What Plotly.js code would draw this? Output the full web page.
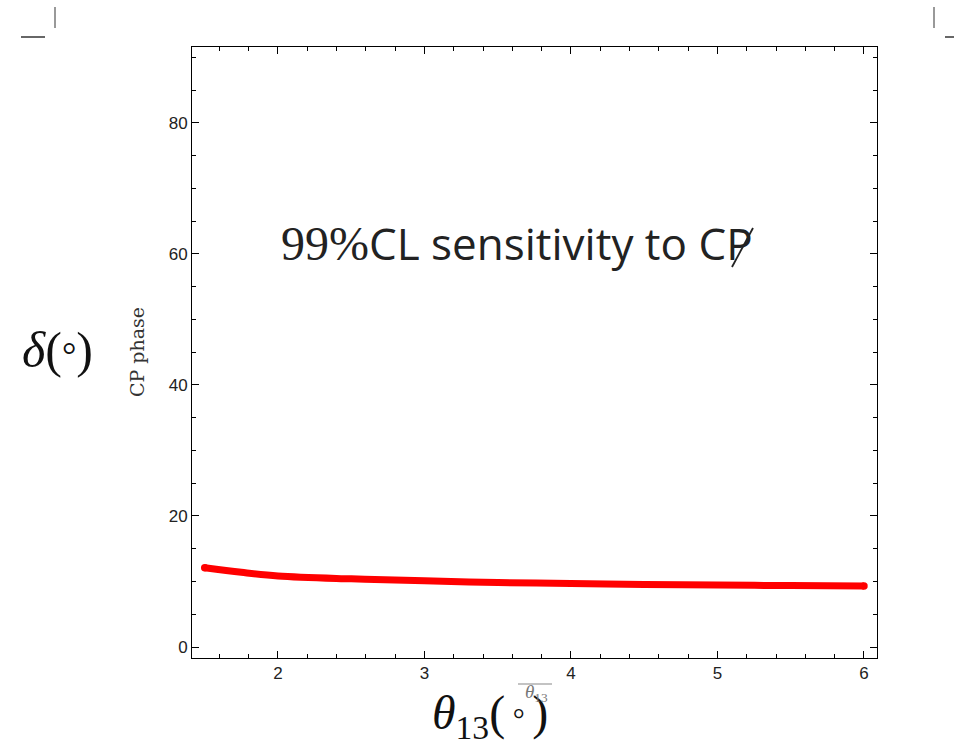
<!DOCTYPE html>
<html>
<head>
<meta charset="utf-8">
<script src="https://cdn.plot.ly/plotly-3.0.1.min.js"></script>
<style>html,body{margin:0;padding:0;background:#fff;}#chart{width:954px;height:745px;}</style>
</head>
<body>
<div id="chart"></div>
<script>
// Data
const theta13 = [1.5, 1.75, 2.0, 2.5, 3.0, 3.5, 4.0, 4.5, 5.0, 5.5, 6.0];
const deltaCP = [12.1, 11.4, 10.85, 10.4, 10.1, 9.85, 9.7, 9.55, 9.45, 9.38, 9.3];
const xTicks = [2, 3, 4, 5, 6];
const yTicks = [0, 20, 40, 60, 80];

const n = theta13.length;
const capSizes = theta13.map((_, i) => (i === 0 || i === n - 1) ? 7.5 : 0);

const trace = {
  x: theta13, y: deltaCP, type: 'scatter', mode: 'lines+markers',
  line: {color: '#ff0000', width: 7, shape: 'spline'},
  marker: {color: '#ff0000', size: capSizes, opacity: 1, line: {width: 0}},
  hoverinfo: 'skip', showlegend: false
};

const tickFont = {family: 'Liberation Sans', size: 17, color: '#222'};
const axisCommon = {
  showline: true, linecolor: '#000', linewidth: 1, mirror: 'ticks',
  ticks: 'inside', ticklen: 7, tickcolor: '#000', tickwidth: 1,
  showgrid: false, zeroline: false, tickfont: tickFont
};

function px2x(p) { return (p - 192) / 685; }
function py2y(p) { return (658 - p) / 611; }

const layout = {
  width: 954, height: 745,
  margin: {l: 192, r: 77, t: 47, b: 87},
  paper_bgcolor: '#fff', plot_bgcolor: '#fff',
  xaxis: Object.assign({}, axisCommon, {
    range: [1.413, 6.089], tickvals: xTicks, ticktext: xTicks.map(String),
    minor: {dtick: 0.2, ticks: 'inside', ticklen: 4, tickcolor: '#000', showgrid: false}
  }),
  yaxis: Object.assign({}, axisCommon, {
    range: [-1.68, 91.6], tickvals: yTicks, ticktext: yTicks.map(String),
    minor: {dtick: 5, ticks: 'inside', ticklen: 4, tickcolor: '#000', showgrid: false}
  }),
  annotations: [
    {xref: 'paper', yref: 'paper', x: px2x(279), y: py2y(243), xanchor: 'left', yanchor: 'middle', showarrow: false,
     text: '<span style="font-family:Liberation Serif;font-size:48px">99%</span>CL sensitivity to CP',
     font: {family: 'Open Sans', size: 44, color: '#222'}},
    {xref: 'paper', yref: 'paper', x: px2x(57), y: py2y(350), xanchor: 'center', yanchor: 'middle', showarrow: false,
     text: '<i>δ</i>(<span style="font-size:36px">°</span>)', font: {family: 'Liberation Serif', size: 50, color: '#111'}},
    {xref: 'paper', yref: 'paper', x: px2x(137), y: py2y(352), xanchor: 'center', yanchor: 'middle', showarrow: false,
     textangle: -90, text: 'CP phase', font: {family: 'DejaVu Serif', size: 19, color: '#333'}},
    {xref: 'paper', yref: 'paper', x: px2x(490), y: py2y(716), xanchor: 'center', yanchor: 'middle', showarrow: false,
     text: '<i>θ</i><sub>13</sub>(<span style="font-size:30px"> ° </span>)', font: {family: 'Liberation Serif', size: 48, color: '#111'}},
    {xref: 'paper', yref: 'paper', x: px2x(536), y: py2y(693), xanchor: 'center', yanchor: 'middle', showarrow: false,
     text: '<i>θ</i><sub>13</sub>', font: {family: 'Liberation Serif', size: 19, color: '#777'}}
  ],
  shapes: [
    {type: 'line', xref: 'paper', yref: 'paper', x0: px2x(21), x1: px2x(45), y0: py2y(37), y1: py2y(37), line: {color: '#000', width: 1.2}},
    {type: 'line', xref: 'paper', yref: 'paper', x0: px2x(55), x1: px2x(55), y0: py2y(7), y1: py2y(28), line: {color: '#555', width: 1.2}},
    {type: 'line', xref: 'paper', yref: 'paper', x0: px2x(934), x1: px2x(934), y0: py2y(7), y1: py2y(28), line: {color: '#555', width: 1.2}},
    {type: 'line', xref: 'paper', yref: 'paper', x0: px2x(945), x1: px2x(954), y0: py2y(37), y1: py2y(37), line: {color: '#000', width: 1.2}},
    {type: 'line', xref: 'paper', yref: 'paper', x0: px2x(518), x1: px2x(552), y0: py2y(684), y1: py2y(684), line: {color: '#888', width: 1.2}},
    {type: 'line', xref: 'paper', yref: 'paper', x0: px2x(753), x1: px2x(732), y0: py2y(228), y1: py2y(267), line: {color: '#222', width: 1.8}}
  ]
};

Plotly.newPlot('chart', [trace], layout, {displayModeBar: false, staticPlot: true});
</script>
</body>
</html>
